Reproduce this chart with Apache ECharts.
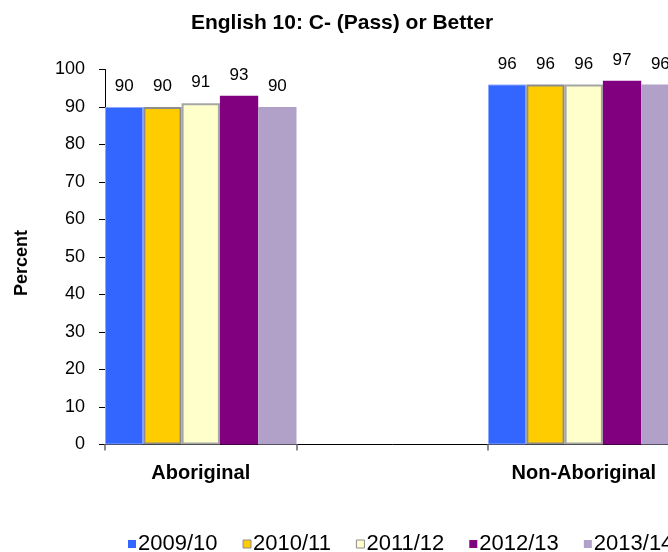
<!DOCTYPE html>
<html>
<head>
<meta charset="utf-8">
<script src="https://cdn.jsdelivr.net/npm/echarts@6/dist/echarts.min.js"></script>
<style>
  html, body { margin: 0; padding: 0; background: #fff; overflow: hidden; width: 668px; height: 552px; }
  /* the drawing surface is wider than the page; the right edge is cut off */
  #chart { width: 720px; height: 552px; }
</style>
</head>
<body>
<div id="chart"></div>
<script>
// Categories (an empty band separates the two groups)
const categories = ["Aboriginal", "", "Non-Aboriginal"];
const years = ["2009/10", "2010/11", "2011/12", "2012/13", "2013/14"];

// Percent passing, one array per school year
const v2009 = [90, null, 96];
const v2010 = [90, null, 96];
const v2011 = [91, null, 96];
const v2012 = [93, null, 97];
const v2013 = [90, null, 96];

const yTicks = [0, 10, 20, 30, 40, 50, 60, 70, 80, 90, 100];

const seriesValues = [v2009, v2010, v2011, v2012, v2013];
const fills = ["#3366FF", "#FFCC00", "#FFFFCC", "#800080", "#B1A0C7"];
const borders = ["#8FA8FF", "#8C8C8C", "#A6A6A6", "#800080", "#B1A0C7"];
const borderWidths = [1, 2, 2, 0, 0];

const FONT = "Liberation Sans, Arial, sans-serif";

const chart = echarts.init(document.getElementById("chart"), null, { renderer: "canvas" });

chart.setOption({
  animation: false,
  backgroundColor: "#ffffff",
  title: {
    text: "English 10: C- (Pass) or Better",
    left: 337,
    top: 8,
    textAlign: "center",
    textStyle: { fontFamily: FONT, fontSize: 21, fontWeight: "bold", color: "#000" }
  },
  legend: {
    data: years.map((y, i) => ({
      name: y,
      itemStyle: {
        color: fills[i],
        borderColor: i === 1 || i === 2 ? "#8C8C8C" : fills[i],
        borderWidth: i === 1 || i === 2 ? 1 : 0
      }
    })),
    left: 123,
    top: 528,
    itemWidth: 8,
    itemHeight: 8,
    itemGap: 25,
    icon: "rect",
    textStyle: { fontFamily: FONT, fontSize: 22, color: "#000", padding: [0, 0, 0, -3] }
  },
  grid: { left: 105, top: 69.5, width: 574.5, height: 375, containLabel: false },
  xAxis: {
    type: "category",
    data: categories,
    axisLine: { lineStyle: { color: "#000", width: 1 } },
    axisTick: { show: true, alignWithLabel: false, length: 6, lineStyle: { color: "#8C8C8C", width: 2 } },
    axisLabel: { fontFamily: FONT, fontSize: 20, fontWeight: "bold", color: "#000", margin: 19 },
    splitLine: { show: false }
  },
  yAxis: {
    type: "value",
    min: yTicks[0],
    max: yTicks[yTicks.length - 1],
    interval: 10,
    name: "Percent",
    nameLocation: "middle",
    nameGap: 74,
    nameTextStyle: { fontFamily: FONT, fontSize: 18, fontWeight: "bold", color: "#000", padding: [0, 12, 0, 0] },
    axisLine: { show: true, lineStyle: { color: "#000", width: 1 } },
    axisTick: { show: true, length: 6, lineStyle: { color: "#000" } },
    axisLabel: { fontFamily: FONT, fontSize: 18, color: "#000", margin: 20 },
    splitLine: { show: false }
  },
  series: seriesValues.map((vals, i) => ({
    name: years[i],
    type: "bar",
    data: vals,
    barGap: "0%",
    barCategoryGap: "0%",
    itemStyle: { color: fills[i], borderColor: borders[i], borderWidth: borderWidths[i] },
    label: {
      show: true,
      position: "top",
      distance: 12,
      fontFamily: FONT,
      fontSize: 17,
      color: "#000"
    }
  }))
});
</script>
</body>
</html>
